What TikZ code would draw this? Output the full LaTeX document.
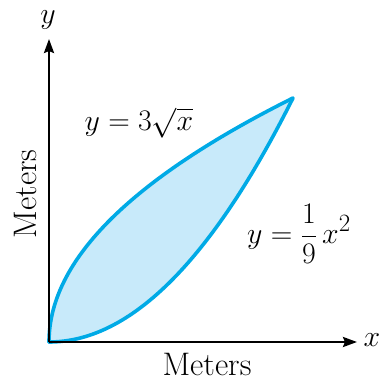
\documentclass[tikz,border=0pt]{standalone}
\usetikzlibrary{arrows.meta}
\definecolor{curveblue}{RGB}{0,170,230}
\definecolor{fillblue}{RGB}{200,234,250}
\tikzset{
  axis/.style={line width=2.4pt, -{Stealth[length=14pt,width=10pt,inset=2pt]}},
  curve/.style={draw=curveblue, line width=3.6pt, line join=round, line cap=round},
  lbl/.style={inner sep=0pt, scale=1.2, font=\fontsize{24.88}{30}\selectfont},
  word/.style={inner sep=0pt, scale=1.31, font=\fontsize{24.88}{30}\selectfont}
}
\begin{document}
\begin{tikzpicture}[x=1pt,y=1pt]
\useasboundingbox (0,0) rectangle (384,385);
\coordinate (O) at (49,43);
\coordinate (xend) at (357,43);
\coordinate (yend) at (49,346);
\begin{scope}[shift={(49,43)}, x=27.11pt, y=27.11pt]
  \fill[fillblue] plot[domain=0:9, samples=80] (\x, {\x*\x/9})
     -- plot[domain=3:0, samples=80] ({\x*\x}, {3*\x}) -- cycle;
  \draw[curve] plot[domain=0:9, samples=80] (\x, {\x*\x/9});
  \draw[curve] plot[domain=0:3, samples=80] ({\x*\x}, {3*\x});
\end{scope}
\draw[axis] (O) -- (xend);
\draw[axis] (O) -- (yend);
\node[lbl] (ylab) at (48,365) {$y$};
\node[lbl] (xlab) at (372,45) {$x$};
\node[word] (mx) at (207,20) {Meters};
\node[word, rotate=90] (my) at (25,191) {Meters};
\node[lbl] (f1) at (139,262) {$y = 3\sqrt{x}$};
\node[lbl] (f2) at (299,151) {$y = \displaystyle\frac{1}{9}\,x^2$};
\end{tikzpicture}
\end{document}
